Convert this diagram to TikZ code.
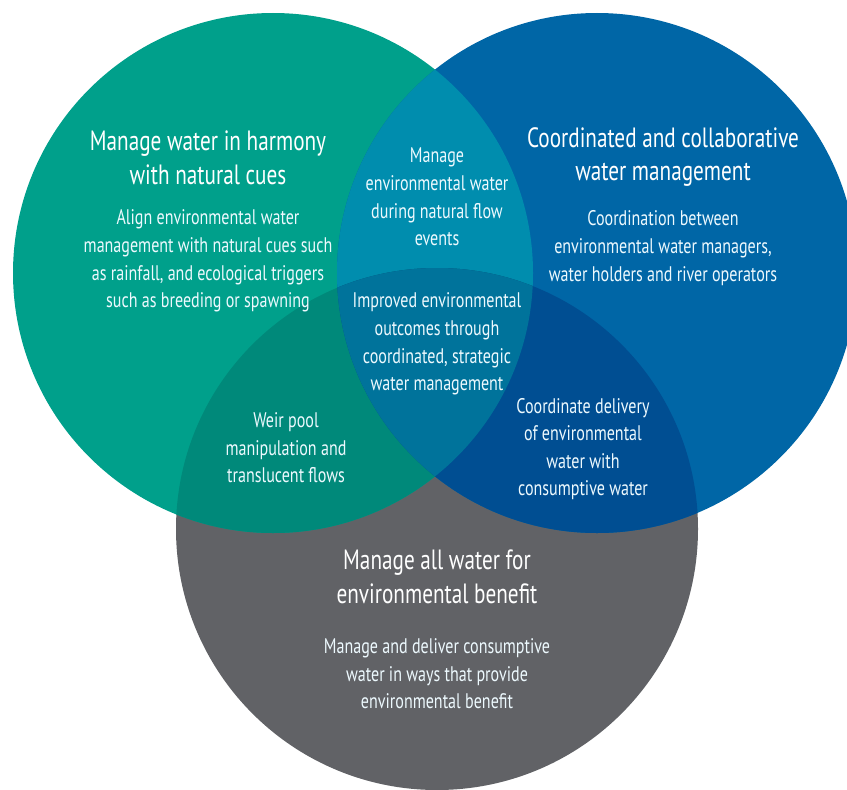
\documentclass[tikz,border=0pt]{standalone}
\usepackage{fontspec}
\setmainfont{PT Sans}[FakeStretch=0.76]
\begin{document}
\definecolor{cTeal}{HTML}{00A08B}
\definecolor{cBlue}{HTML}{0066A6}
\definecolor{cGray}{HTML}{616266}
\definecolor{cTealBlue}{HTML}{008DAE}
\definecolor{cTealGray}{HTML}{00897A}
\definecolor{cBlueGray}{HTML}{004E92}
\definecolor{cAll}{HTML}{00739B}
\begin{tikzpicture}[x=1bp,y=-1bp,
  headtext/.style={text=white,align=center,inner sep=0pt,font=\fontsize{28}{34}\selectfont},
  bodytext/.style={text=white!93!cyan,align=center,inner sep=0pt,font=\fontsize{21.2}{27.7}\selectfont}]
\useasboundingbox (0,0) rectangle (847,790);
\clip (0,0) rectangle (847,790);
% circle geometry
\def\tealC{(273,273) circle[radius=260]}
\def\blueC{(597,273) circle[radius=260]}
\def\grayC{(437,529) circle[radius=261]}
% base discs
\fill[cGray] \grayC;
\fill[cTeal] \tealC;
\fill[cBlue] \blueC;
% pairwise overlaps
\begin{scope}
  \clip \tealC;
  \fill[cTealBlue] \blueC;
  \fill[cTealGray] \grayC;
\end{scope}
\begin{scope}
  \clip \blueC;
  \fill[cBlueGray] \grayC;
\end{scope}
% common centre
\begin{scope}
  \clip \tealC;
  \clip \blueC;
  \fill[cAll] \grayC;
\end{scope}
% labels
\node[headtext] (hNatural) at (208,158) {Manage water in harmony\\with natural cues};
\node[bodytext] (bNatural) at (208,261) {Align environmental water\\management with natural cues such\\as rainfall, and ecological triggers\\such as breeding or spawning};
\node[headtext] (hCoord) at (663,157) {Coordinated and collaborative\\water management};
\node[bodytext] (bCoord) at (663,248) {Coordination between\\environmental water managers,\\water holders and river operators};
\node[bodytext] (iFlow) at (437,197) {Manage\\environmental water\\during natural flow\\events};
\node[bodytext] (iCentre) at (437,344) {Improved environmental\\outcomes through\\coordinated, strategic\\water management};
\node[bodytext] (iWeir) at (286,448) {Weir pool\\manipulation and\\translucent flows};
\node[bodytext] (iDelivery) at (583,449) {Coordinate delivery\\of environmental\\water with\\consumptive water};
\node[headtext] (hAll) at (437,577) {Manage all water for\\environmental benefit};
\node[bodytext] (bAll) at (437,674) {Manage and deliver consumptive\\water in ways that provide\\environmental benefit};
\end{tikzpicture}
\end{document}
